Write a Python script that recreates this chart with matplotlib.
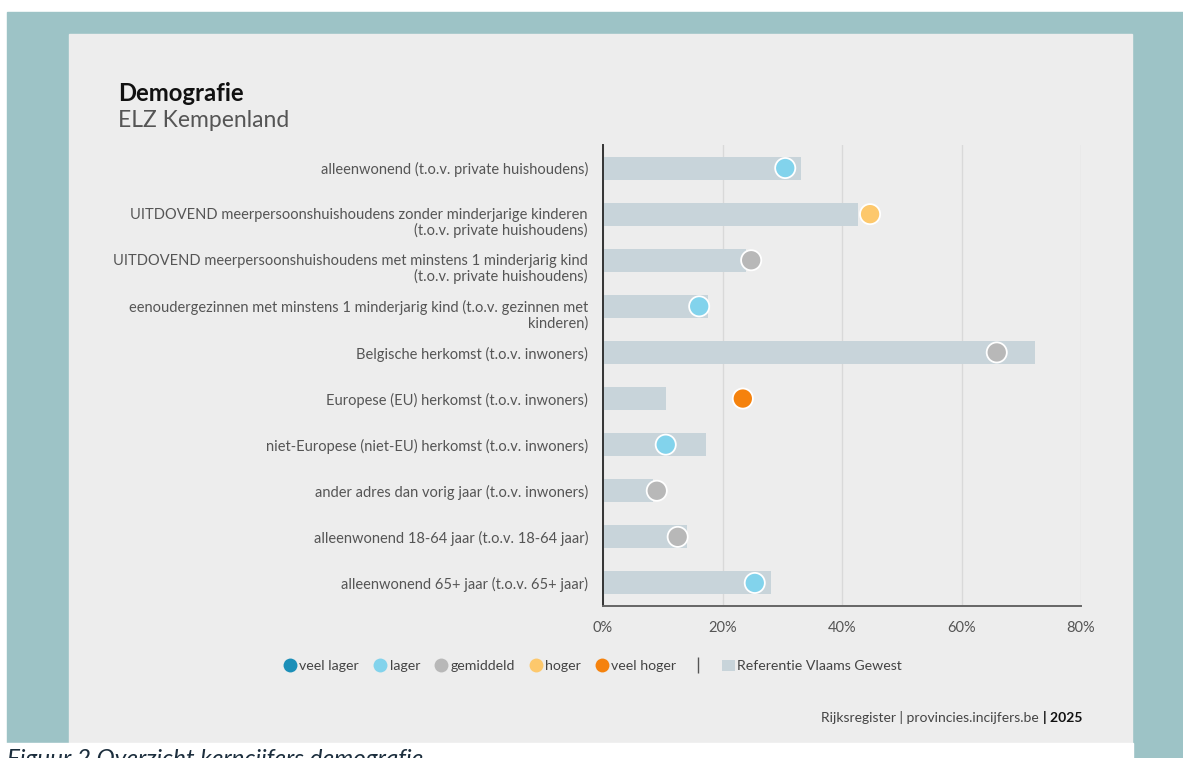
import numpy as np
import matplotlib.pyplot as plt
from matplotlib.patches import Rectangle, Patch
from matplotlib.lines import Line2D

plt.rcParams['font.family'] = ['Lato', 'DejaVu Sans']

labels = [
    "alleenwonend (t.o.v. private huishoudens)",
    "UITDOVEND meerpersoonshuishoudens zonder minderjarige kinderen\n(t.o.v. private huishoudens)",
    "UITDOVEND meerpersoonshuishoudens met minstens 1 minderjarig kind\n(t.o.v. private huishoudens)",
    "eenoudergezinnen met minstens 1 minderjarig kind (t.o.v. gezinnen met\nkinderen)",
    "Belgische herkomst (t.o.v. inwoners)",
    "Europese (EU) herkomst (t.o.v. inwoners)",
    "niet-Europese (niet-EU) herkomst (t.o.v. inwoners)",
    "ander adres dan vorig jaar (t.o.v. inwoners)",
    "alleenwonend 18-64 jaar (t.o.v. 18-64 jaar)",
    "alleenwonend 65+ jaar (t.o.v. 65+ jaar)",
]
# referentie Vlaams Gewest (%)
ref_vlaanderen = [33.1, 42.7, 24.0, 17.6, 72.3, 10.5, 17.2, 8.4, 14.0, 28.1]
# ELZ Kempenland (%)
elz_values = [30.5, 44.7, 24.8, 16.1, 65.9, 23.4, 10.5, 9.0, 12.5, 25.4]
elz_class = ["lager", "hoger", "gemiddeld", "lager", "gemiddeld",
             "veel hoger", "lager", "gemiddeld", "gemiddeld", "lager"]

class_names = ["veel lager", "lager", "gemiddeld", "hoger", "veel hoger"]
class_colors = {"veel lager": "#1b8fb8", "lager": "#82d3ec", "gemiddeld": "#b8b8b8",
                "hoger": "#fdc86c", "veel hoger": "#f5820d"}
xticks = [0, 20, 40, 60, 80]

W, H = 1183, 758
fig = plt.figure(figsize=(W / 100, H / 100), dpi=100)
fig.patch.set_facecolor("white")


def px_rect(x0, y0, x1, y1, color):
    fig.patches.append(Rectangle((x0 / W, 1 - y1 / H), (x1 - x0) / W, (y1 - y0) / H,
                                 transform=fig.transFigure, color=color, zorder=-10))


px_rect(7, 12, 1183, 758, "#9dc3c6")
px_rect(69, 34, 1132, 743, "#ededed")
px_rect(0, 743, 1133, 758, "white")

ax = fig.add_axes([603 / W, 1 - 606 / H, (1081 - 603) / W, (606 - 145) / H])
ax.set_facecolor("none")

y = np.arange(len(labels))
ax.barh(y, ref_vlaanderen, height=0.5, color="#c8d4da", zorder=2)
ax.scatter(elz_values, y, s=14.5 ** 2, c=[class_colors[c] for c in elz_class],
           edgecolors="white", linewidths=1.3, zorder=3)

ax.set_xlim(0, 80)
ax.set_ylim(len(labels) - 0.5, -0.5)
ax.set_xticks(xticks)
ax.set_xticklabels([f"{v}%" for v in xticks])
ax.set_yticks(y)
ax.set_yticklabels([])
# category labels: first line on the bar, extra lines hang below
for yi, lab in zip(y, labels):
    ax.annotate(lab, xy=(0, yi), xycoords=("axes fraction", "data"),
                xytext=(-15, 6), textcoords="offset pixels", ha="right", va="top",
                fontsize=10.5, color="#555555", linespacing=1.05, annotation_clip=False)
ax.tick_params(axis="both", length=0, labelsize=10.5, labelcolor="#555555")
ax.tick_params(axis="x", pad=11)
ax.grid(axis="x", color="#d9d9d9", linewidth=1, zorder=0)
for s in ["top", "right"]:
    ax.spines[s].set_visible(False)
ax.spines["left"].set_color("#333333")
ax.spines["left"].set_linewidth(1.4)
ax.spines["bottom"].set_color("#666666")
ax.spines["bottom"].set_linewidth(1.4)

# titles
fig.text(118 / W, 1 - 101 / H, "Demografie", fontsize=17.2, fontweight="bold",
         color="#111111", va="baseline")
fig.text(118 / W, 1 - 127 / H, "ELZ Kempenland", fontsize=16.5, color="#555555",
         va="baseline")

# legend
handles = [Line2D([], [], marker="o", linestyle="none", markersize=10,
                  markerfacecolor=class_colors[c], markeredgecolor="none", label=c)
           for c in class_names]
handles.append(Line2D([], [], marker="|", linestyle="none", markersize=11,
                      color="#555555", label=""))
handles.append(Patch(facecolor="#c8d4da", edgecolor="none", label="Referentie Vlaams Gewest"))
leg = fig.legend(handles=handles, loc="center", bbox_to_anchor=(593 / W, 1 - 666 / H),
                 ncol=len(handles), frameon=False, fontsize=10.2, handlelength=0.9,
                 handletextpad=0.2, columnspacing=1.05, handleheight=0.9)
for t in leg.get_texts():
    t.set_color("#444444")

# source
t2025 = fig.text(1082 / W, 1 - 722 / H, "| 2025", fontsize=10, fontweight="bold",
                 color="#111111", ha="right", va="baseline")
ax.annotate("Rijksregister | provincies.incijfers.be ", xy=(0, 0), xycoords=t2025,
            ha="right", va="bottom", fontsize=10, color="#444444",
            annotation_clip=False)

# caption (cut off by the image edge, as in the original)
fig.text(7 / W, 1 - 766 / H, "Figuur 2 Overzicht kerncijfers demografie", fontsize=17.5,
         fontstyle="italic", color="#1c2e3d", va="baseline")

fig.savefig("out.png", dpi=100)
